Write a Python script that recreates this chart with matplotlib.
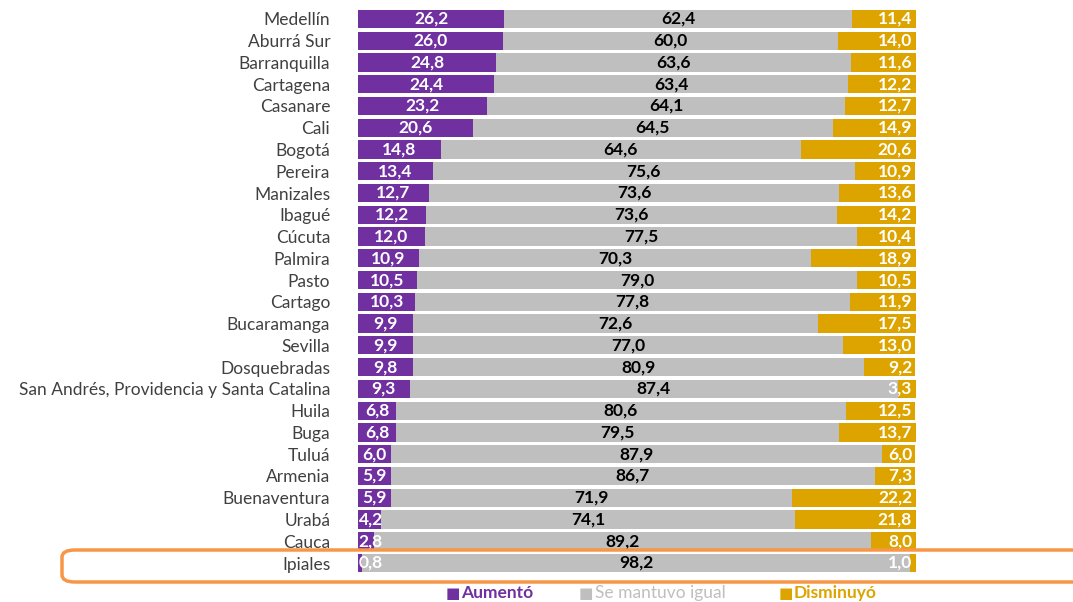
import matplotlib.pyplot as plt
from matplotlib.patches import FancyBboxPatch

plt.rcParams['font.family'] = ['Lato', 'DejaVu Sans']

ciudades = ["Medellín", "Aburrá Sur", "Barranquilla", "Cartagena", "Casanare", "Cali",
            "Bogotá", "Pereira", "Manizales", "Ibagué", "Cúcuta", "Palmira", "Pasto",
            "Cartago", "Bucaramanga", "Sevilla", "Dosquebradas",
            "San Andrés, Providencia y Santa Catalina", "Huila", "Buga", "Tuluá",
            "Armenia", "Buenaventura", "Urabá", "Cauca", "Ipiales"]
aumento = [26.2, 26.0, 24.8, 24.4, 23.2, 20.6, 14.8, 13.4, 12.7, 12.2, 12.0, 10.9, 10.5,
           10.3, 9.9, 9.9, 9.8, 9.3, 6.8, 6.8, 6.0, 5.9, 5.9, 4.2, 2.8, 0.8]
igual = [62.4, 60.0, 63.6, 63.4, 64.1, 64.5, 64.6, 75.6, 73.6, 73.6, 77.5, 70.3, 79.0,
         77.8, 72.6, 77.0, 80.9, 87.4, 80.6, 79.5, 87.9, 86.7, 71.9, 74.1, 89.2, 98.2]
disminuyo = [11.4, 14.0, 11.6, 12.2, 12.7, 14.9, 20.6, 10.9, 13.6, 14.2, 10.4, 18.9, 10.5,
             11.9, 17.5, 13.0, 9.2, 3.3, 12.5, 13.7, 6.0, 7.3, 22.2, 21.8, 8.0, 1.0]

morado = "#7030A0"
gris = "#BFBFBF"
amarillo = "#DDA400"
fs = 12.5

fig = plt.figure(figsize=(10.73, 6.02), dpi=100)
ax = fig.add_axes([0.3336, 0.0467, 0.52, 0.94])

y = list(range(len(ciudades)))
fmt = lambda v: f"{v:.1f}".replace(".", ",")

ax.barh(y, aumento, height=0.84, color=morado)
ax.barh(y, igual, left=aumento, height=0.84, color=gris)
izq_am = [a + b for a, b in zip(aumento, igual)]
ax.barh(y, disminuyo, left=izq_am, height=0.84, color=amarillo)

for i in y:
    ax.text(max(aumento[i] / 2, 2.3), i, fmt(aumento[i]), ha="center", va="center",
            color="white", fontsize=fs, fontweight="bold")
    ax.text(aumento[i] + igual[i] / 2, i, fmt(igual[i]), ha="center", va="center",
            color="black", fontsize=fs, fontweight="bold")
    ax.text(99.3, i, fmt(disminuyo[i]), ha="right", va="center",
            color="white", fontsize=fs, fontweight="bold")

ax.set_xlim(0, 100)
ax.set_ylim(len(ciudades) - 0.5, -0.5)
ax.set_yticks(y)
ax.set_yticklabels(ciudades, fontsize=fs, color="#404040")
ax.tick_params(axis="y", length=0, pad=20)
ax.set_xticks([])
for s in ax.spines.values():
    s.set_visible(False)

# recuadro naranja alrededor de Ipiales
caja = FancyBboxPatch((62 / 1073, 1 - 582 / 602), 1.05, 32 / 602,
                      boxstyle="round,pad=0,rounding_size=0.012",
                      transform=fig.transFigure, fill=False,
                      edgecolor="#F79646", linewidth=2.5, clip_on=False)
fig.patches.append(caja)

# leyenda
ly = 1 - 593 / 602
fig.text(446 / 1073, ly, "■", color=morado, fontsize=11, va="center", family="DejaVu Sans")
fig.text(461 / 1073, ly, "Aumentó", color=morado, fontsize=fs, fontweight="bold", va="center")
fig.text(579 / 1073, ly, "■", color=gris, fontsize=11, va="center", family="DejaVu Sans")
fig.text(595 / 1073, ly, "Se mantuvo igual", color=gris, fontsize=fs, va="center")
fig.text(779 / 1073, ly, "■", color=amarillo, fontsize=11, va="center", family="DejaVu Sans")
fig.text(794 / 1073, ly, "Disminuyó", color=amarillo, fontsize=fs, fontweight="bold", va="center")

fig.savefig("out.png", dpi=100)
